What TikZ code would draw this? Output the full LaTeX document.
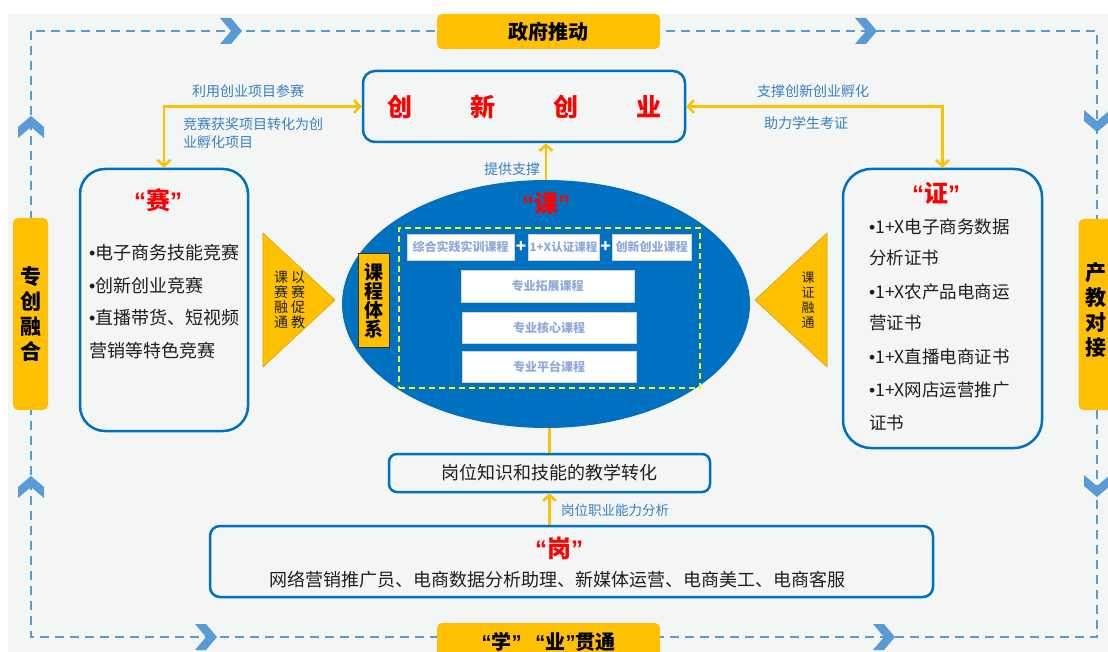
\documentclass[tikz,border=0pt]{standalone}
\usepackage{fontspec}
\setmainfont{Noto Sans CJK SC}
\newfontfamily\lat{Liberation Sans}
\usetikzlibrary{arrows.meta,shapes.geometric,calc}
\definecolor{bgc}{HTML}{F4F6F6}
\definecolor{bblue}{HTML}{0070C0}
\definecolor{orng}{HTML}{FFC000}
\definecolor{dblue}{HTML}{5B9BD5}
\definecolor{lblue}{HTML}{3A7FC1}
\definecolor{cboxc}{HTML}{8EAADB}
\definecolor{txt}{HTML}{1E1E1E}
\definecolor{tribd}{HTML}{D9A400}
\newcommand\qt[1]{{\lat\bfseries “}#1{\lat\bfseries ”}}
\newcommand\chevR[2]{\fill[dblue] (#1-11,#2-13) -- (#1,#2-13) -- (#1+11,#2) -- (#1,#2+13) -- (#1-11,#2+13) -- (#1,#2) -- cycle;}
\newcommand\chevU[2]{\fill[dblue] (#1-13,#2+11) -- (#1-13,#2) -- (#1,#2-11) -- (#1+13,#2) -- (#1+13,#2+11) -- (#1,#2) -- cycle;}
\newcommand\chevD[2]{\fill[dblue] (#1-13,#2-11) -- (#1-13,#2) -- (#1,#2+11) -- (#1+13,#2) -- (#1+13,#2-11) -- (#1,#2) -- cycle;}
\tikzset{
  obox/.style={fill=orng, rounded corners=5pt, inner sep=0pt, text=black, font=\bfseries\fontsize{20}{24}\selectfont},
  vbox/.style={fill=orng, rounded corners=5pt, inner sep=0pt, text=black, align=center, font=\bfseries\fontsize{21}{25}\selectfont},
  bbox/.style={draw=bblue, line width=2.5pt, fill=bgc, inner sep=0pt},
  qlabel/.style={text=red, font=\bfseries\fontsize{24}{28}\selectfont, inner sep=0pt},
  item/.style={anchor=west, text=txt, inner sep=0pt},
  lbl/.style={text=lblue, font=\fontsize{14}{17}\selectfont, inner sep=0pt},
  cbox/.style={fill=white, draw=gray!35, line width=0.8pt, inner sep=0pt, text=cboxc, font=\bfseries\fontsize{12}{14}\selectfont},
  yarr/.style={draw=orng, line width=2.5pt},
  barb/.tip={Straight Barb[length=6pt,width=13pt]},
  tri/.style={fill=orng, draw=tribd, line width=0.6pt},
  vtxt/.style={align=center, text=txt, inner sep=0pt, font=\fontsize{14}{15}\selectfont}
}
\begin{document}
\begin{tikzpicture}[x=1pt,y=-1pt]
\useasboundingbox (0,0) rectangle (1108,652);
\clip (0,0) rectangle (1108,652);
\fill[white] (0,0) rectangle (1108,652);
\fill[bgc] (8,14) rectangle (1108,652);
% dashed loop
\draw[dblue, line width=2pt, dash pattern=on 9pt off 6pt] (31,31) rectangle (1097,637);
\chevR{231}{31}\chevR{866}{31}
\chevR{206}{637}\chevR{884}{637}
\chevU{31}{127}\chevU{31}{487}
\chevD{1097}{121}\chevD{1097}{486}
% orange frame boxes
\node[obox, minimum width=223, minimum height=35] (gov) at (548.5,31.5) {政府推动};
\node[obox, minimum width=223, minimum height=38] (xy) at (548.5,642) {\qt{学}\hspace{14pt}\qt{业}贯通};
\node[vbox, minimum width=35, minimum height=192] (zc) at (30.5,314) {专\\创\\融\\合};
\node[vbox, minimum width=42, minimum height=191] (cj) at (1099.5,314.5) {};
\node[vbox] (cjt) at (1096,310) {产\\教\\对\\接};
% top box
\node[bbox, rounded corners=12pt, minimum width=322, minimum height=71] (cx) at (524,106.5) {};
\node[text=red, font=\bfseries\fontsize{25}{28}\selectfont, inner sep=0pt] (cxt) at (cx.center) {创\hspace{58pt}新\hspace{58pt}创\hspace{58pt}业};
% side boxes
\node[bbox, rounded corners=25pt, minimum width=168, minimum height=262] (sai) at (164,300) {};
\node[qlabel] (saiq) at (158,200) {\qt{赛}};
\begin{scope}[font=\fontsize{18}{20}\selectfont]
\node[item] (s1) at (89,253) {{\lat •}电子商务技能竞赛};
\node[item] (s2) at (89,286) {{\lat •}创新创业竞赛};
\node[item] (s3) at (89,318) {{\lat •}直播带货、短视频};
\node[item] (s4) at (89,351) {营销等特色竞赛};
\end{scope}
\node[bbox, rounded corners=28pt, minimum width=199, minimum height=279] (zheng) at (942.5,308.5) {};
\node[qlabel] (zhq) at (936,193) {\qt{证}};
\begin{scope}[font=\fontsize{17.5}{20}\selectfont]
\node[item] (z1) at (869,227) {{\lat •}1+X电子商务数据};
\node[item] (z2) at (869,258) {分析证书};
\node[item] (z3) at (869,292) {{\lat •}1+X农产品电商运};
\node[item] (z4) at (869,323) {营证书};
\node[item] (z5) at (869,357) {{\lat •}1+X直播电商证书};
\node[item] (z6) at (869,390) {{\lat •}1+X网店运营推广};
\node[item] (z7) at (869,423) {证书};
\end{scope}
% triangles
\draw[tri] (263,233) -- (335,300) -- (263,367) -- cycle;
\node[vtxt] (tl1) at (281,300) {课\\赛\\融\\通};
\node[vtxt] (tl2) at (298,300) {以\\赛\\促\\教};
\draw[tri] (827,233) -- (755,300) -- (827,367) -- cycle;
\node[vtxt, font=\fontsize{13}{15}\selectfont] (tr1) at (808,300) {课\\证\\融\\通};
% bottom boxes
\node[bbox, rounded corners=8pt, minimum width=321, minimum height=38, text=txt, font=\fontsize{18}{20}\selectfont] (gw) at (549.5,473) {岗位知识和技能的教学转化};
\node[bbox, rounded corners=10pt, minimum width=723, minimum height=71] (gang) at (571.5,561.5) {};
\node[qlabel] (gangq) at (559,548) {\qt{岗}};
\node[text=txt, inner sep=0pt, font=\fontsize{18}{20}\selectfont] (gangt) at (557,580) {网络营销推广员、电商数据分析助理、新媒体运营、电商美工、电商客服};
% ellipse
\draw[yarr] (gw.north) -- ++(0,-40);
\node[ellipse, fill=bblue, minimum width=408, minimum height=248, inner sep=0pt] (ell) at (546,304) {};
\draw[yarr, -barb] (ell.north) -- (ell.north |- cx.south);
\draw[yarr, -barb] (gang.north -| gw.south) -- (gw.south);
\draw[yarr, barb-barb] (cx.west) -| (sai.north);
\draw[yarr, barb-barb] (cx.east) -| (zheng.north);
\node[qlabel] (keq) at (546,203) {\qt{课}};
\node[draw=black!80, line width=1pt, fill=orng, minimum width=31, minimum height=93, inner sep=0pt, align=center, font=\bfseries\fontsize{19}{19}\selectfont] (kcx) at (373.5,300.5) {课\\程\\体\\系};
\node[draw=yellow, line width=2pt, dash pattern=on 6pt off 4pt, minimum width=301, minimum height=160, inner sep=0pt] (frame) at (549.5,308) {};
\node[cbox, minimum width=107, minimum height=26] (k1) at (460.5,247) {综合实践实训课程};
\node[cbox, minimum width=71, minimum height=26, font=\bfseries\fontsize{11.5}{14}\selectfont] (k2) at (563.5,247) {1+X认证课程};
\node[cbox, minimum width=79, minimum height=26] (k3) at (651.5,247) {创新创业课程};
\node[text=white, font=\bfseries\fontsize{17}{17}\selectfont, inner sep=0pt] (p1) at (521,247) {+};
\node[text=white, font=\bfseries\fontsize{17}{17}\selectfont, inner sep=0pt] (p2) at (605.5,247) {+};
\node[cbox, minimum width=173, minimum height=32] (k4) at (547.5,286) {专业拓展课程};
\node[cbox, minimum width=174, minimum height=31] (k5) at (549,327.5) {专业核心课程};
\node[cbox, minimum width=174, minimum height=31] (k6) at (549,366.5) {专业平台课程};
% labels
\node[lbl] (l1) at (248,91) {利用创业项目参赛};
\node[lbl, anchor=west] (l2) at (183,124) {竞赛获奖项目转化为创};
\node[lbl, anchor=west] (l3) at (183,142) {业孵化项目};
\node[lbl] (r1) at (813,91) {支撑创新创业孵化};
\node[lbl] (r2) at (806,123) {助力学生考证};
\node[lbl] (l4) at (512,169) {提供支撑};
\node[lbl, anchor=west, font=\fontsize{13.5}{16}\selectfont] (l5) at (561,510) {岗位职业能力分析};
\end{tikzpicture}
\end{document}
